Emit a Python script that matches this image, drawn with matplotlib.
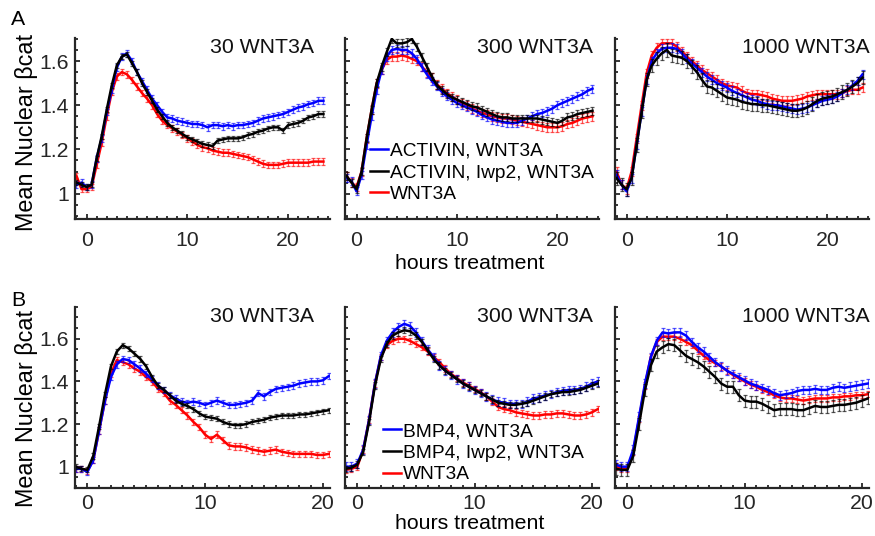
import numpy as np
import matplotlib
matplotlib.use("Agg")
import matplotlib.pyplot as plt
from matplotlib.ticker import MultipleLocator

plt.rcParams['font.family'] = ['Liberation Sans', 'DejaVu Sans']

# time axes (hours treatment), one reading every half hour
t_top = np.arange(-1, 24, 0.5)
t_bot = np.arange(-1, 21, 0.5)

doses = ["30 WNT3A", "300 WNT3A", "1000 WNT3A"]
labels_top = ["ACTIVIN, WNT3A", "ACTIVIN, Iwp2, WNT3A", "WNT3A"]
labels_bot = ["BMP4, WNT3A", "BMP4, Iwp2, WNT3A", "WNT3A"]

# row A: ACTIVIN pre-treatment
a30_blue = [1.04, 1.05, 1.03, 1.04, 1.16, 1.25, 1.37, 1.47, 1.57, 1.62, 1.635, 1.60, 1.55, 1.51, 1.47, 1.43, 1.40,
            1.37, 1.345, 1.34, 1.33, 1.325, 1.32, 1.315, 1.315, 1.31, 1.30, 1.31, 1.31, 1.305, 1.31, 1.305, 1.31,
            1.31, 1.315, 1.32, 1.33, 1.34, 1.345, 1.35, 1.355, 1.36, 1.37, 1.38, 1.39, 1.395, 1.405, 1.41, 1.42, 1.42]
a30_black = [1.05, 1.04, 1.03, 1.04, 1.16, 1.26, 1.38, 1.49, 1.58, 1.62, 1.63, 1.59, 1.55, 1.50, 1.46, 1.42, 1.38,
             1.35, 1.32, 1.30, 1.285, 1.27, 1.255, 1.245, 1.235, 1.225, 1.22, 1.215, 1.24, 1.245, 1.25, 1.25, 1.25,
             1.255, 1.265, 1.27, 1.28, 1.285, 1.295, 1.30, 1.30, 1.285, 1.31, 1.315, 1.32, 1.33, 1.345, 1.35, 1.36, 1.36]
a30_red = [1.08, 1.02, 1.02, 1.03, 1.13, 1.23, 1.35, 1.46, 1.53, 1.55, 1.54, 1.515, 1.485, 1.455, 1.43, 1.40, 1.36,
           1.33, 1.31, 1.295, 1.28, 1.265, 1.25, 1.235, 1.22, 1.21, 1.205, 1.195, 1.19, 1.185, 1.185, 1.18, 1.175,
           1.17, 1.165, 1.155, 1.145, 1.135, 1.13, 1.13, 1.13, 1.135, 1.14, 1.14, 1.14, 1.14, 1.14, 1.145, 1.145, 1.145]

a300_blue = [1.07, 1.055, 1.01, 1.085, 1.22, 1.35, 1.47, 1.56, 1.62, 1.65, 1.655, 1.65, 1.65, 1.635, 1.61, 1.575,
             1.54, 1.51, 1.485, 1.46, 1.44, 1.425, 1.41, 1.40, 1.39, 1.38, 1.37, 1.355, 1.345, 1.335, 1.33, 1.325,
             1.32, 1.32, 1.32, 1.33, 1.34, 1.35, 1.36, 1.365, 1.375, 1.385, 1.40, 1.41, 1.42, 1.43, 1.44, 1.45, 1.465, 1.475]
a300_black = [1.08, 1.05, 1.02, 1.10, 1.25, 1.38, 1.50, 1.575, 1.64, 1.70, 1.68, 1.68, 1.685, 1.70, 1.665, 1.62,
              1.575, 1.53, 1.49, 1.47, 1.45, 1.435, 1.425, 1.415, 1.405, 1.395, 1.39, 1.38, 1.37, 1.36, 1.35, 1.345,
              1.345, 1.34, 1.34, 1.34, 1.34, 1.34, 1.34, 1.335, 1.33, 1.325, 1.32, 1.33, 1.345, 1.35, 1.36, 1.365, 1.37, 1.375]
a300_red = [1.08, 1.05, 1.03, 1.10, 1.25, 1.38, 1.50, 1.56, 1.605, 1.62, 1.62, 1.625, 1.62, 1.61, 1.60, 1.575, 1.55,
            1.525, 1.495, 1.475, 1.455, 1.44, 1.425, 1.41, 1.40, 1.385, 1.375, 1.365, 1.36, 1.35, 1.345, 1.34, 1.34,
            1.335, 1.33, 1.325, 1.32, 1.315, 1.31, 1.305, 1.30, 1.30, 1.30, 1.305, 1.315, 1.32, 1.33, 1.34, 1.345, 1.35]

a1000_blue = [1.085, 1.04, 1.01, 1.07, 1.22, 1.37, 1.515, 1.60, 1.635, 1.655, 1.66, 1.66, 1.655, 1.635, 1.61, 1.59,
              1.57, 1.55, 1.53, 1.515, 1.50, 1.49, 1.48, 1.465, 1.455, 1.445, 1.435, 1.425, 1.42, 1.41, 1.405, 1.40,
              1.40, 1.395, 1.39, 1.385, 1.38, 1.385, 1.39, 1.40, 1.41, 1.42, 1.425, 1.43, 1.44, 1.455, 1.47, 1.49, 1.51, 1.54]
a1000_black = [1.07, 1.04, 1.02, 1.07, 1.22, 1.37, 1.515, 1.58, 1.61, 1.635, 1.65, 1.625, 1.62, 1.615, 1.60, 1.575,
               1.55, 1.515, 1.485, 1.48, 1.465, 1.45, 1.435, 1.43, 1.425, 1.415, 1.41, 1.405, 1.405, 1.40, 1.40, 1.395,
               1.39, 1.385, 1.38, 1.375, 1.375, 1.38, 1.39, 1.405, 1.42, 1.43, 1.435, 1.44, 1.45, 1.46, 1.47, 1.485, 1.50, 1.525]
a1000_red = [1.10, 1.04, 1.02, 1.10, 1.25, 1.40, 1.545, 1.625, 1.66, 1.68, 1.68, 1.68, 1.665, 1.645, 1.62, 1.60, 1.58,
             1.56, 1.545, 1.53, 1.515, 1.50, 1.49, 1.485, 1.48, 1.465, 1.455, 1.45, 1.45, 1.445, 1.44, 1.43, 1.425,
             1.42, 1.42, 1.42, 1.425, 1.43, 1.44, 1.445, 1.45, 1.45, 1.45, 1.45, 1.45, 1.455, 1.465, 1.47, 1.47, 1.48]

# row B: BMP4 pre-treatment
b30_blue = [0.99, 0.99, 0.975, 1.03, 1.17, 1.31, 1.42, 1.48, 1.505, 1.50, 1.48, 1.46, 1.435, 1.41, 1.38, 1.36, 1.335,
            1.32, 1.305, 1.30, 1.305, 1.30, 1.29, 1.30, 1.31, 1.30, 1.29, 1.29, 1.295, 1.30, 1.31, 1.345, 1.33, 1.35,
            1.365, 1.37, 1.375, 1.38, 1.39, 1.395, 1.40, 1.40, 1.405, 1.425]
b30_black = [1.00, 0.99, 0.985, 1.05, 1.19, 1.34, 1.47, 1.54, 1.57, 1.555, 1.53, 1.505, 1.47, 1.42, 1.38, 1.36, 1.335,
             1.31, 1.295, 1.285, 1.27, 1.25, 1.235, 1.23, 1.225, 1.21, 1.20, 1.195, 1.195, 1.20, 1.21, 1.215, 1.22,
             1.23, 1.235, 1.24, 1.24, 1.24, 1.245, 1.245, 1.25, 1.255, 1.26, 1.265]
b30_red = [0.99, 0.99, 0.98, 1.03, 1.17, 1.31, 1.435, 1.50, 1.49, 1.48, 1.46, 1.445, 1.42, 1.40, 1.365, 1.345, 1.31,
           1.29, 1.265, 1.24, 1.21, 1.185, 1.15, 1.13, 1.15, 1.125, 1.10, 1.095, 1.095, 1.09, 1.08, 1.075, 1.07, 1.075,
           1.08, 1.07, 1.065, 1.06, 1.06, 1.06, 1.06, 1.055, 1.055, 1.06]

b300_blue = [1.00, 1.00, 1.015, 1.08, 1.22, 1.39, 1.52, 1.59, 1.63, 1.655, 1.67, 1.66, 1.63, 1.59, 1.55, 1.515, 1.475,
             1.45, 1.43, 1.41, 1.39, 1.375, 1.36, 1.345, 1.33, 1.315, 1.305, 1.30, 1.295, 1.295, 1.295, 1.305, 1.32,
             1.325, 1.335, 1.34, 1.35, 1.355, 1.36, 1.36, 1.365, 1.375, 1.39, 1.40]
b300_black = [0.99, 0.995, 1.01, 1.07, 1.21, 1.38, 1.505, 1.575, 1.615, 1.63, 1.64, 1.635, 1.615, 1.585, 1.545, 1.505,
              1.475, 1.45, 1.43, 1.41, 1.39, 1.375, 1.36, 1.345, 1.33, 1.315, 1.30, 1.295, 1.29, 1.29, 1.295, 1.30,
              1.31, 1.32, 1.33, 1.34, 1.345, 1.35, 1.35, 1.355, 1.36, 1.37, 1.38, 1.39]
b300_red = [0.985, 0.99, 1.00, 1.08, 1.22, 1.39, 1.515, 1.57, 1.59, 1.60, 1.60, 1.59, 1.575, 1.56, 1.54, 1.515, 1.49,
            1.46, 1.435, 1.415, 1.395, 1.38, 1.365, 1.35, 1.33, 1.305, 1.28, 1.27, 1.265, 1.255, 1.25, 1.245, 1.24,
            1.24, 1.245, 1.245, 1.25, 1.25, 1.245, 1.24, 1.24, 1.245, 1.255, 1.27]

b1000_blue = [1.01, 1.00, 1.00, 1.08, 1.235, 1.39, 1.515, 1.59, 1.63, 1.625, 1.63, 1.63, 1.615, 1.585, 1.56, 1.54,
              1.515, 1.49, 1.47, 1.45, 1.435, 1.42, 1.405, 1.39, 1.38, 1.37, 1.36, 1.345, 1.335, 1.34, 1.345, 1.355,
              1.36, 1.36, 1.365, 1.36, 1.36, 1.37, 1.375, 1.37, 1.375, 1.38, 1.385, 1.39]
b1000_black = [0.99, 0.985, 0.985, 1.05, 1.20, 1.36, 1.475, 1.54, 1.56, 1.575, 1.57, 1.545, 1.52, 1.505, 1.49, 1.47,
               1.445, 1.42, 1.39, 1.375, 1.375, 1.335, 1.31, 1.305, 1.305, 1.295, 1.28, 1.265, 1.27, 1.27, 1.27, 1.265,
               1.265, 1.275, 1.285, 1.28, 1.28, 1.285, 1.29, 1.29, 1.295, 1.30, 1.31, 1.32]
b1000_red = [1.00, 0.99, 0.99, 1.07, 1.225, 1.38, 1.515, 1.585, 1.61, 1.61, 1.61, 1.60, 1.585, 1.57, 1.545, 1.52, 1.50,
             1.485, 1.47, 1.45, 1.43, 1.415, 1.40, 1.385, 1.375, 1.36, 1.35, 1.335, 1.325, 1.32, 1.32, 1.315, 1.31,
             1.315, 1.32, 1.32, 1.32, 1.325, 1.325, 1.33, 1.33, 1.335, 1.335, 1.34]

# approximate error bar half-heights (blue, black, red) per panel
err_top = [[0.015, 0.012, 0.015], [0.018, 0.018, 0.02], [0.02, 0.03, 0.02]]
err_bot = [[0.015, 0.012, 0.015], [0.02, 0.015, 0.015], [0.02, 0.028, 0.015]]

rows = [
    dict(t=t_top, data=[(a30_blue, a30_black, a30_red), (a300_blue, a300_black, a300_red),
                        (a1000_blue, a1000_black, a1000_red)],
         err=err_top, labels=labels_top, ylim=(0.885, 1.705), xlim=(-1.15, 24.15),
         bottom=0.5914, leg=(0.098, 0.255), xpad=8.5, letter="A", letter_y=0.963, ylab_y=0.752, xlab_y=0.509),
    dict(t=t_bot, data=[(b30_blue, b30_black, b30_red), (b300_blue, b300_black, b300_red),
                        (b1000_blue, b1000_black, b1000_red)],
         err=err_bot, labels=labels_bot, ylim=(0.9, 1.75), xlim=(-1.05, 20.6),
         bottom=0.0896, leg=(0.15, 0.193), xpad=4.0, letter="B", letter_y=0.440, ylab_y=0.237, xlab_y=0.024),
]

colors = ['#0000ff', '#000000', '#ff0000']
lefts = [0.0857, 0.3943, 0.7029]
widths = [0.2914, 0.2903, 0.2903]
dose_x = [0.53, 0.52, 0.50]
fs = 15.3

fig = plt.figure(figsize=(8.75, 5.36), dpi=100)

for row in rows:
    for j in range(3):
        ax = fig.add_axes([lefts[j], row['bottom'], widths[j], 0.338])
        blue, black, red = row['data'][j]
        eb, ek, er = row['err'][j]
        handles = {}
        for vals, e, c, key in [(red, er, colors[2], 'r'), (blue, eb, colors[0], 'b'), (black, ek, colors[1], 'k')]:
            ax.errorbar(row['t'], vals, yerr=e, fmt='none', ecolor=c, elinewidth=0.9,
                        capsize=1.7, capthick=0.9, alpha=0.65)
            ln, = ax.plot(row['t'], vals, color=c, lw=1.8)
            handles[key] = ln
        ax.set_xlim(*row['xlim'])
        ax.set_ylim(*row['ylim'])
        ax.xaxis.set_major_locator(MultipleLocator(10))
        ax.xaxis.set_minor_locator(MultipleLocator(1))
        ax.yaxis.set_major_locator(MultipleLocator(0.2))
        ax.yaxis.set_minor_locator(MultipleLocator(0.05))
        ax.spines['top'].set_visible(False)
        ax.spines['right'].set_visible(False)
        for s in ['left', 'bottom']:
            ax.spines[s].set_linewidth(1.6)
            ax.spines[s].set_color('#262626')
        ax.tick_params(which='both', direction='in', width=1.3, color='#262626',
                       labelsize=fs, labelcolor='#262626')
        ax.tick_params(which='major', length=3.5)
        ax.tick_params(which='minor', length=2.3)
        ax.tick_params(axis='x', which='major', pad=row['xpad'])
        ax.tick_params(axis='y', which='major', pad=4.5)
        if j == 0:
            ax.set_yticks([1.0, 1.2, 1.4, 1.6])
            ax.set_yticklabels(['1', '1.2', '1.4', '1.6'])
        else:
            ax.set_yticklabels([])
        ax.text(dose_x[j], 0.945, doses[j], transform=ax.transAxes, ha='left', va='center',
                fontsize=fs, color='#111111')
        if j == 1:
            ax.legend([handles['b'], handles['k'], handles['r']], row['labels'], loc='center left',
                      bbox_to_anchor=row['leg'], frameon=False, fontsize=13.8, handlelength=0.95,
                      handletextpad=0.1, labelspacing=0.22, borderpad=0, borderaxespad=0)
    fig.text(0.021, row['letter_y'], row['letter'], fontsize=fs, ha='center', va='center')
    fig.text(0.030, row['ylab_y'], "Mean Nuclear βcat", rotation=90, fontsize=16.8,
             ha='center', va='center')
    fig.text(0.537, row['xlab_y'], "hours treatment", fontsize=fs, ha='center', va='center')

fig.savefig("out.png", dpi=100)
